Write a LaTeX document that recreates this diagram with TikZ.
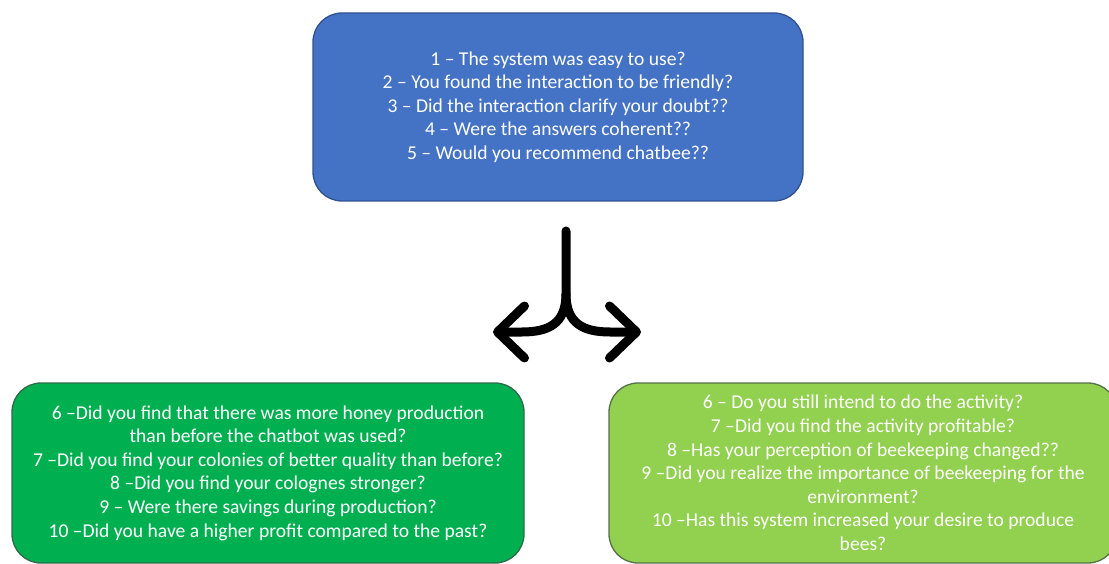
\documentclass[tikz,border=0pt]{standalone}
\usepackage{fontspec}
\setmainfont{Carlito}
\usetikzlibrary{arrows.meta}
\definecolor{qblue}{HTML}{4472C4}
\definecolor{qblueline}{HTML}{2F528F}
\definecolor{qgreen}{HTML}{00B050}
\definecolor{qgreenline}{HTML}{2E6B4A}
\definecolor{qlime}{HTML}{92D050}
\definecolor{qlimeline}{HTML}{55704A}
\tikzset{
  qbox/.style={rectangle, rounded corners=29pt, line width=1.3pt, text=white,
    align=center, inner sep=0pt, font=\fontsize{19.6}{23.6}\selectfont},
  forkline/.style={line width=9pt, line cap=round, line join=round, black},
  forktip/.style={-{Straight Barb[length=27pt,width=52pt,round]}}
}
\begin{document}
\begin{tikzpicture}[x=1pt,y=-1pt]
\clip (0,0) rectangle (1109,564);
\fill[white] (0,0) rectangle (1109,564);
\node[qbox, draw=qblueline, fill=qblue, minimum width=490pt, minimum height=188pt] (top) at (558,107)
  {1 – The system was easy to use?\\
   2 – You found the interaction to be friendly?\\
   3 – Did the interaction clarify your doubt??\\
   4 – Were the answers coherent??\\
   5 – Would you recommend chatbee??};
\node[qbox, draw=qgreenline, fill=qgreen, minimum width=512pt, minimum height=180pt] (left) at (268,473)
  {6 –Did you find that there was more honey production\\
   than before the chatbot was used?\\
   7 –Did you find your colonies of better quality than before?\\
   8 –Did you find your colognes stronger?\\
   9 – Were there savings during production?\\
   10 –Did you have a higher profit compared to the past?};
\node[qbox, draw=qlimeline, fill=qlime, minimum width=508pt, minimum height=180pt] (right) at (863,473)
  {6 – Do you still intend to do the activity?\\
   7 –Did you find the activity profitable?\\
   8 –Has your perception of beekeeping changed??\\
   9 –Did you realize the importance of beekeeping for the\\
   environment?\\
   10 –Has this system increased your desire to produce\\
   bees?};
\coordinate (stem) at (566,231);
\coordinate (split) at (566,294);
\coordinate (ltip) at (493,332);
\coordinate (rtip) at (641,332);
\draw[forkline, forktip] (stem) -- (split) .. controls (566,324) and (548,332) .. (522,332) -- (ltip);
\draw[forkline, forktip] (split) .. controls (566,324) and (584,332) .. (610,332) -- (rtip);
\end{tikzpicture}
\end{document}
